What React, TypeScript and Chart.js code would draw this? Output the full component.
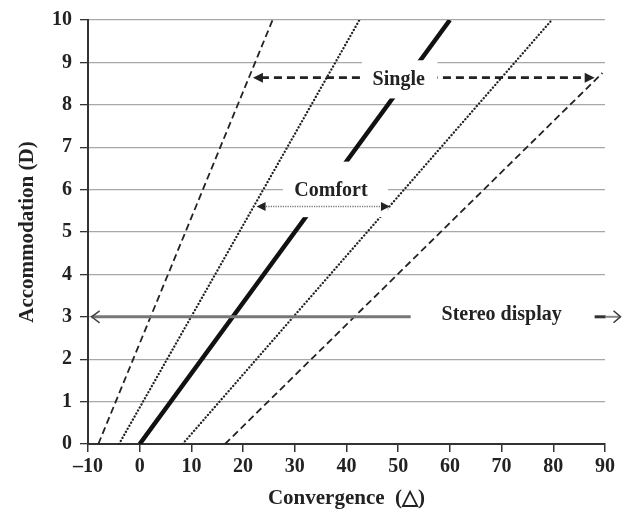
import React, { useEffect, useRef } from 'react';
import { Chart, registerables } from 'chart.js';

Chart.register(...registerables);

// ---- data ----
const xTickValues = [-10, 0, 10, 20, 30, 40, 50, 60, 70, 80, 90];
const yTickValues = [0, 1, 2, 3, 4, 5, 6, 7, 8, 9, 10];

const singleNearX = [-8, 25.7];
const singleNearY = [0, 10];
const comfortNearX = [-4, 42.5];
const comfortNearY = [0, 10];
const dondersX = [0, 60];
const dondersY = [0, 10];
const comfortFarX = [8.3, 79.7];
const comfortFarY = [0, 10];
const singleFarX = [16.5, 89.5];
const singleFarY = [0, 8.75];

const singleArrowX = [21.9, 88];
const singleArrowY = 8.64;
const comfortArrowX = [22.6, 48.4];
const comfortArrowY = 5.6;
const stereoArrowX = [-9.3, 93];
const stereoArrowY = 3;

const labelTexts = ['Single', 'Comfort', 'Stereo display'];
const labelX = [50.1, 37, 70];
const labelY = [8.6, 5.96, 3.05];

const FONT = "'Liberation Serif', 'Times New Roman', serif";

const toPoints = (xs: number[], ys: number[]) => xs.map((x, i) => ({ x, y: ys[i] }));

function head(ctx: CanvasRenderingContext2D, tx: number, ty: number, dir: number, len: number, hw: number) {
  ctx.beginPath();
  ctx.moveTo(tx, ty);
  ctx.lineTo(tx - dir * len, ty - hw);
  ctx.lineTo(tx - dir * len, ty + hw);
  ctx.closePath();
  ctx.fill();
}

function openHead(ctx: CanvasRenderingContext2D, tx: number, ty: number, dir: number, len: number, hw: number) {
  ctx.beginPath();
  ctx.moveTo(tx - dir * len, ty - hw);
  ctx.lineTo(tx, ty);
  ctx.lineTo(tx - dir * len, ty + hw);
  ctx.stroke();
}

const annotationPlugin = {
  id: 'annotationsCustom',
  afterDatasetsDraw(chart: any) {
    const { ctx, scales } = chart;
    const xs = scales.x;
    const ys = scales.y;
    const px = (v: number) => xs.getPixelForValue(v);
    const py = (v: number) => ys.getPixelForValue(v);
    ctx.save();

    // Single arrow (dashed, filled heads)
    const sy = py(singleArrowY);
    const sl = px(singleArrowX[0]);
    const sr = px(singleArrowX[1]);
    ctx.strokeStyle = '#222';
    ctx.fillStyle = '#222';
    ctx.lineWidth = 2.6;
    ctx.setLineDash([8, 5]);
    ctx.beginPath();
    ctx.moveTo(sl + 8, sy);
    ctx.lineTo(sr - 8, sy);
    ctx.stroke();
    ctx.setLineDash([]);
    head(ctx, sl, sy, -1, 10, 5);
    head(ctx, sr, sy, 1, 10, 5);

    // white boxes behind labels
    ctx.fillStyle = '#ffffff';
    const boxes = [
      [43, 57.6, 8.15, 9.05],
      [27.7, 48.0, 5.35, 6.66],
      [52.4, 88.0, 2.55, 3.45],
    ];
    boxes.forEach(([x0, x1, y0, y1]) => {
      const l = px(x0), r = px(x1), t = py(y1), b = py(y0);
      ctx.fillRect(l, t, r - l, b - t);
    });

    // Comfort arrow (dotted thin, filled heads)
    const cy = py(comfortArrowY);
    const cl = px(comfortArrowX[0]);
    const cr = px(comfortArrowX[1]);
    ctx.strokeStyle = '#777';
    ctx.lineWidth = 1.5;
    ctx.setLineDash([1.2, 1.2]);
    ctx.beginPath();
    ctx.moveTo(cl + 7, cy);
    ctx.lineTo(cr - 7, cy);
    ctx.stroke();
    ctx.setLineDash([]);
    ctx.fillStyle = '#222';
    head(ctx, cl, cy, -1, 9, 4.5);
    head(ctx, cr, cy, 1, 9, 4.5);

    // Stereo display line
    const ty = py(stereoArrowY);
    const tl = px(stereoArrowX[0]);
    const tr = px(stereoArrowX[1]);
    ctx.strokeStyle = '#777';
    ctx.lineWidth = 3;
    ctx.beginPath();
    ctx.moveTo(tl, ty);
    ctx.lineTo(px(52.4), ty);
    ctx.stroke();
    ctx.strokeStyle = '#444';
    ctx.lineWidth = 1.5;
    openHead(ctx, tl, ty, -1, 8, 6);
    // right arrow
    ctx.strokeStyle = '#333';
    ctx.lineWidth = 3;
    ctx.beginPath();
    ctx.moveTo(px(88), ty);
    ctx.lineTo(px(88) + 11, ty);
    ctx.stroke();
    ctx.strokeStyle = '#888';
    ctx.lineWidth = 2;
    ctx.beginPath();
    ctx.moveTo(px(88) + 11, ty);
    ctx.lineTo(tr - 1, ty);
    ctx.stroke();
    ctx.strokeStyle = '#333';
    ctx.lineWidth = 1.5;
    openHead(ctx, tr, ty, 1, 7, 6);

    // labels
    ctx.fillStyle = '#222';
    ctx.font = `bold 20px ${FONT}`;
    ctx.textAlign = 'center';
    ctx.textBaseline = 'middle';
    labelTexts.forEach((t, i) => {
      ctx.fillText(t, px(labelX[i]), py(labelY[i]));
    });

    ctx.restore();
  },
};

export default function App() {
  const ref = useRef<HTMLCanvasElement | null>(null);

  useEffect(() => {
    if (!ref.current) return;
    const dashed = { borderColor: '#222', borderWidth: 1.8, borderDash: [7, 4] };
    const dotted = { borderColor: '#222', borderWidth: 2.3, borderDash: [0.1, 3.4], borderCapStyle: 'round' };
    const chart = new Chart(ref.current, {
      type: 'scatter',
      data: {
        datasets: [
          { label: 'Single (near)', data: toPoints(singleNearX, singleNearY), ...dashed },
          { label: 'Comfort (near)', data: toPoints(comfortNearX, comfortNearY), ...dotted },
          { label: 'Donders line', data: toPoints(dondersX, dondersY), borderColor: '#111', borderWidth: 4.5 },
          { label: 'Comfort (far)', data: toPoints(comfortFarX, comfortFarY), ...dotted },
          { label: 'Single (far)', data: toPoints(singleFarX, singleFarY), ...dashed },
        ].map((d: any) => ({ ...d, showLine: true, pointRadius: 0, fill: false, tension: 0 })),
      },
      options: {
        animation: false,
        responsive: true,
        maintainAspectRatio: false,
        layout: { padding: { top: 18, right: 21, bottom: 0, left: 0 } },
        plugins: { legend: { display: false }, tooltip: { enabled: false } },
        scales: {
          x: {
            type: 'linear',
            min: -10,
            max: 90,
            afterFit: (s: any) => { s.height = 67; },
            afterBuildTicks: (s: any) => { s.ticks = xTickValues.map((v) => ({ value: v })); },
            ticks: {
              color: '#222',
              padding: 3,
              font: { family: FONT, size: 20, weight: 'bold' },
              callback: (v: any) => (Number(v) < 0 ? '\u2013' + Math.abs(Number(v)) : String(v)),
            },
            grid: { display: true, drawOnChartArea: false, drawTicks: true, tickLength: 8, tickColor: '#333', lineWidth: 1.5 },
            border: { display: true, color: '#333', width: 2 },
            title: {
              display: true,
              text: 'Convergence  (\u25B3)',
              color: '#222',
              font: { family: FONT, size: 21, weight: 'bold' },
              padding: { top: 0, bottom: 0 },
            },
          },
          y: {
            type: 'linear',
            min: 0,
            max: 10,
            afterFit: (s: any) => { s.width = 88; },
            afterBuildTicks: (s: any) => { s.ticks = yTickValues.map((v) => ({ value: v })); },
            ticks: {
              color: '#222',
              padding: 8,
              font: { family: FONT, size: 20, weight: 'bold' },
            },
            grid: { color: '#a8a8a8', lineWidth: 1.3, tickLength: 8, tickColor: '#333' },
            border: { display: true, color: '#333', width: 2 },
            title: {
              display: true,
              text: 'Accommodation (D)',
              color: '#222',
              font: { family: FONT, size: 21, weight: 'bold' },
              padding: { top: 15, bottom: 0 },
            },
          },
        },
      } as any,
      plugins: [annotationPlugin],
    });
    return () => chart.destroy();
  }, []);

  return (
    <div style={{ position: 'fixed', left: 0, top: 0, width: 626, height: 511, background: '#fff' }}>
      <canvas ref={ref} />
    </div>
  );
}
